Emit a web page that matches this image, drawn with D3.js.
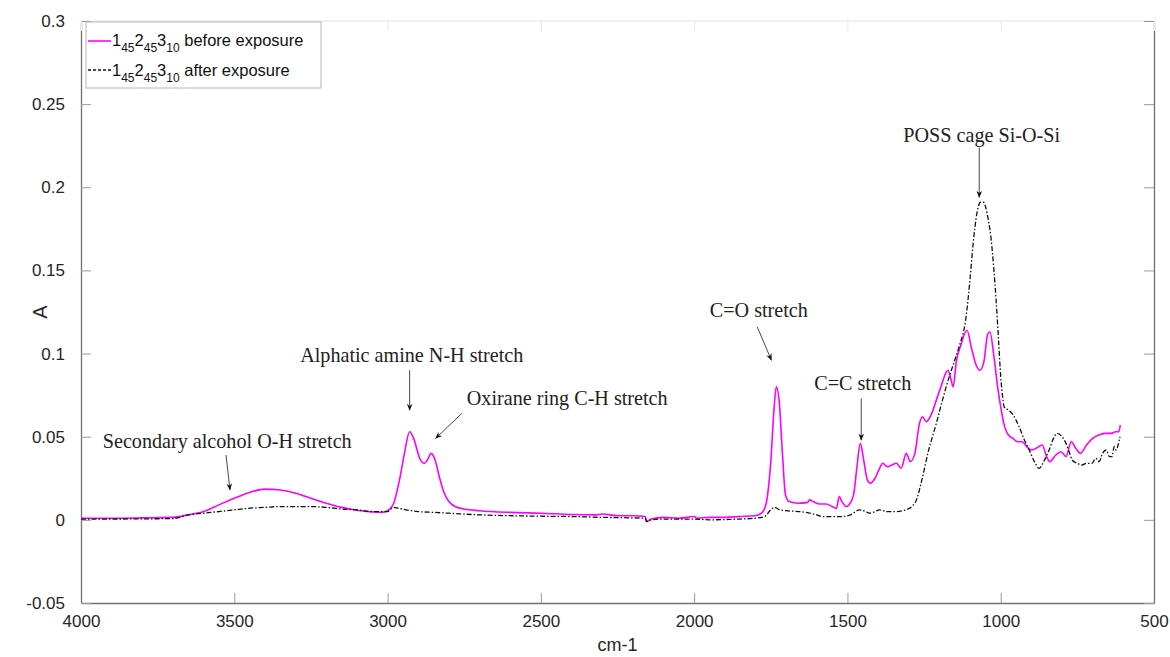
<!DOCTYPE html>
<html>
<head>
<meta charset="utf-8">
<script src="https://cdn.jsdelivr.net/npm/d3@7"></script>
<style>
  html, body { margin: 0; padding: 0; background: #fff; }
  svg { display: block; }
</style>
</head>
<body>
<svg id="chart" width="1170" height="657"></svg>
<script>
// ---------------- DATA ----------------
const xTicks = [4000, 3500, 3000, 2500, 2000, 1500, 1000, 500];
const yTicks = [-0.05, 0, 0.05, 0.1, 0.15, 0.2, 0.25, 0.3];
const yTickLabels = ["-0.05", "0", "0.05", "0.1", "0.15", "0.2", "0.25", "0.3"];
const xLabel = "cm-1";
const yLabel = "A";

// Series 1: before exposure (wavenumber, absorbance)
const beforeWn = [4000,3900,3800,3700,3650,3600,3550,3500,3450,3400,3350,3300,3250,3200,3150,3100,3050,3020,3000,2980,2960,2945,2928,2915,2895,2880,2870,2858,2845,2830,2815,2800,2780,2750,2700,2600,2500,2400,2320,2300,2250,2200,2160,2155,2140,2100,2050,2000,1990,1950,1900,1850,1800,1780,1765,1750,1740,1732,1722,1712,1702,1690,1660,1630,1624,1612,1590,1570,1550,1536,1527,1518,1504,1495,1480,1470,1458,1447,1435,1425,1410,1395,1385,1370,1355,1340,1325,1308,1295,1280,1265,1255,1243,1225,1210,1195,1180,1172,1163,1155,1145,1130,1110,1095,1080,1068,1055,1042,1035,1022,1010,1000,990,975,960,945,930,915,900,885,865,850,840,820,803,787,770,755,740,720,700,680,660,640,625,615,610];
const beforeA  = [0.001,0.001,0.0012,0.0015,0.003,0.005,0.009,0.013,0.0165,0.0185,0.018,0.016,0.013,0.010,0.0075,0.0058,0.0048,0.0045,0.0055,0.010,0.025,0.040,0.053,0.049,0.037,0.034,0.036,0.040,0.036,0.025,0.016,0.011,0.008,0.0065,0.0055,0.0045,0.004,0.0032,0.003,0.0035,0.0025,0.0025,0.002,-0.001,0.0005,0.0015,0.001,0.002,0.001,0.0015,0.0015,0.002,0.0025,0.004,0.010,0.035,0.065,0.080,0.070,0.040,0.015,0.011,0.010,0.0105,0.012,0.011,0.0095,0.0095,0.008,0.0068,0.014,0.011,0.008,0.009,0.015,0.030,0.046,0.036,0.024,0.022,0.025,0.031,0.034,0.032,0.033,0.034,0.031,0.040,0.035,0.040,0.058,0.062,0.059,0.064,0.072,0.080,0.088,0.090,0.085,0.080,0.095,0.105,0.114,0.103,0.093,0.090,0.095,0.112,0.113,0.098,0.080,0.068,0.058,0.051,0.049,0.047,0.047,0.044,0.042,0.043,0.045,0.038,0.035,0.039,0.041,0.038,0.047,0.043,0.040,0.045,0.049,0.051,0.052,0.052,0.053,0.053,0.057];

// Series 2: after exposure
const afterWn = [4000,3900,3800,3700,3650,3600,3550,3500,3450,3400,3350,3300,3250,3200,3150,3100,3050,3000,2990,2980,2965,2940,2900,2850,2800,2700,2600,2500,2400,2300,2200,2160,2155,2140,2100,2000,1950,1900,1850,1800,1770,1750,1738,1720,1700,1660,1634,1600,1582,1540,1517,1490,1461,1440,1429,1410,1396,1370,1341,1310,1290,1275,1256,1235,1210,1190,1168,1150,1136,1113,1100,1090,1078,1066,1056,1049,1040,1032,1023,1015,1007,1000,993,989,975,963,950,940,925,907,890,875,860,842,828,816,800,787,775,767,750,735,720,702,690,679,668,656,645,637,630,624,617,611];
const afterA  = [0.0005,0.0005,0.0006,0.0008,0.003,0.004,0.005,0.006,0.007,0.0075,0.008,0.008,0.008,0.0075,0.0065,0.006,0.005,0.005,0.0065,0.0075,0.007,0.006,0.005,0.0045,0.004,0.003,0.0025,0.0022,0.002,0.0015,0.0012,0.001,-0.001,0,0.0005,0.0005,0,0.0002,0.0005,0.001,0.002,0.006,0.0075,0.006,0.0055,0.005,0.0045,0.003,0.002,0.002,0.002,0.003,0.006,0.005,0.004,0.005,0.006,0.005,0.005,0.006,0.008,0.012,0.025,0.042,0.058,0.072,0.086,0.096,0.104,0.122,0.145,0.166,0.184,0.191,0.191,0.188,0.180,0.170,0.152,0.132,0.108,0.086,0.073,0.068,0.066,0.064,0.060,0.056,0.049,0.042,0.035,0.031,0.035,0.042,0.049,0.052,0.050,0.046,0.040,0.036,0.034,0.033,0.034,0.034,0.037,0.035,0.040,0.042,0.038,0.038,0.044,0.042,0.045,0.050];

const seriesNames = ["before exposure", "after exposure"];

// Annotations: text anchor (wn, A) and arrow (from -> to) in data units
const annLabels = ["Secondary alcohol O-H stretch", "Alphatic amine N-H stretch", "Oxirane ring C-H stretch", "C=O stretch", "C=C stretch", "POSS cage Si-O-Si"];
const annTextWn = [3523, 2921, 2414, 1789, 1450, 1062];
const annTextA  = [0.0433, 0.095, 0.069, 0.122, 0.078, 0.227];
const annArrowFromWn = [3527, 2928, 2758, 1794, 1455, 1070];
const annArrowFromA  = [0.039, 0.090, 0.064, 0.116, 0.073, 0.224];
const annArrowToWn   = [3514, 2928, 2843, 1748, 1455, 1070];
const annArrowToA    = [0.018, 0.066, 0.049, 0.096, 0.048, 0.194];

// ---------------- DRAW ----------------
const svg = d3.select("#chart");
const L = 81, R = 1154, T = 21, B = 603;
const x = d3.scaleLinear().domain([4000, 500]).range([L, R]);
const y = d3.scaleLinear().domain([-0.05, 0.3]).range([B, T]);

const defs = svg.append("defs");
defs.append("marker").attr("id", "arrow").attr("viewBox", "0 0 10 10")
  .attr("refX", 9).attr("refY", 5).attr("markerWidth", 7).attr("markerHeight", 7)
  .attr("markerUnits", "userSpaceOnUse").attr("orient", "auto")
  .append("path").attr("d", "M0,1 L10,5 L0,9 L3,5 Z").attr("fill", "#111");
defs.append("clipPath").attr("id", "clip").append("rect")
  .attr("x", L).attr("y", T).attr("width", R - L).attr("height", B - T);

// frame
svg.append("line").attr("x1", L).attr("x2", R).attr("y1", T).attr("y2", T).attr("stroke", "#e2e2e2").attr("stroke-width", 1);
const tickCol = "#9a9a9a", axisCol = "#707070";
const sans = "'Liberation Sans', Arial, sans-serif";

// axes with inward ticks
const fmtY = d => yTickLabels[yTicks.indexOf(d)];
const gx = svg.append("g").attr("transform", `translate(0,${B})`)
  .call(d3.axisBottom(x).tickValues(xTicks).tickSizeInner(-10).tickSizeOuter(0).tickPadding(12).tickFormat(d3.format("d")));
const gy = svg.append("g").attr("transform", `translate(${L},0)`)
  .call(d3.axisLeft(y).tickValues(yTicks).tickSizeInner(-10).tickSizeOuter(0).tickPadding(16).tickFormat(fmtY));
const gr = svg.append("g").attr("transform", `translate(${R},0)`)
  .call(d3.axisRight(y).tickValues(yTicks).tickSizeInner(-10).tickSizeOuter(0).tickFormat(""));
const gt = svg.append("g").attr("transform", `translate(0,${T})`)
  .call(d3.axisTop(x).tickValues(xTicks).tickSizeInner(-10).tickSizeOuter(0).tickFormat(""));
[gx, gy, gr, gt].forEach(g => {
  g.selectAll(".tick line").attr("stroke", tickCol).attr("stroke-width", 1);
  g.selectAll(".tick text").attr("fill", "#262626").style("font-family", sans).style("font-size", "17px");
});
gt.select(".domain").remove();
gt.selectAll(".tick line").attr("stroke", "#e8e8e8");
[gx, gy, gr].forEach(g => g.select(".domain").attr("stroke", axisCol).attr("stroke-width", 1.3));

// axis labels
svg.append("text").attr("x", (L + R) / 2).attr("y", 651).attr("text-anchor", "middle")
  .style("font-family", sans).style("font-size", "18px").attr("fill", "#262626").text(xLabel);
svg.append("text").attr("transform", `translate(47,${(T + B) / 2}) rotate(-90)`).attr("text-anchor", "middle")
  .style("font-family", sans).style("font-size", "20px").attr("fill", "#262626").text(yLabel);

// lines
const line = d3.line().x(d => x(d[0])).y(d => y(d[1])).curve(d3.curveMonotoneX);
const plot = svg.append("g").attr("clip-path", "url(#clip)");
const afterData = afterWn.map((w, i) => [w, afterA[i]]);
const beforeData = beforeWn.map((w, i) => [w, beforeA[i]]);
plot.append("path").datum(beforeData).attr("d", line).attr("fill", "none")
  .attr("stroke", "#ff00ff").attr("stroke-width", 1.6);
plot.append("path").datum(afterData).attr("d", line).attr("fill", "none")
  .attr("stroke", "#111").attr("stroke-width", 1.3).attr("stroke-dasharray", "5,2,1.5,2");

// annotations
const serif = "'Liberation Serif', 'Times New Roman', serif";
const annG = svg.append("g");
const probe = annG.append("text").style("font-family", serif).style("font-size", "20px").text(annLabels[0]);
const w0 = probe.node().getComputedTextLength();
probe.remove();
const annSize = 20 * 249 / w0;
annLabels.forEach((lab, i) => {
  annG.append("text").attr("x", x(annTextWn[i])).attr("y", y(annTextA[i])).attr("text-anchor", "middle")
    .style("font-family", serif).style("font-size", annSize + "px")
    .attr("fill", "#222").text(lab);
  annG.append("line").attr("x1", x(annArrowFromWn[i])).attr("y1", y(annArrowFromA[i]))
    .attr("x2", x(annArrowToWn[i])).attr("y2", y(annArrowToA[i]))
    .attr("stroke", "#333").attr("stroke-width", 0.9).attr("marker-end", "url(#arrow)");
});

// legend
const lg = svg.append("g");
lg.append("rect").attr("x", 86).attr("y", 22).attr("width", 235).attr("height", 66)
  .attr("fill", "#fff").attr("stroke", "#b5b5b5").attr("stroke-width", 1);
const legendRows = [
  { name: seriesNames[0], color: "#ff00ff", dash: null, ly: 41, ty: 46 },
  { name: seriesNames[1], color: "#111", dash: "3,2", ly: 70, ty: 76 }
];
legendRows.forEach(r => {
  lg.append("line").attr("x1", 88).attr("x2", 111).attr("y1", r.ly).attr("y2", r.ly)
    .attr("stroke", r.color).attr("stroke-width", r.dash ? 1.3 : 1.6).attr("stroke-dasharray", r.dash);
  const t = lg.append("text").attr("x", 112).attr("y", r.ty).attr("fill", "#111")
    .style("font-family", sans).style("font-size", "16.5px");
  const parts = [["1", 0], ["45", 1], ["2", 0], ["45", 1], ["3", 0], ["10", 1], [" " + r.name, 0]];
  let prev = 0;
  parts.forEach(([s, sub]) => {
    const dy = (sub - prev) * 6;
    prev = sub;
    t.append("tspan").attr("dy", dy).style("font-size", sub ? "12px" : "16.5px").text(s);
  });
});
</script>
</body>
</html>
